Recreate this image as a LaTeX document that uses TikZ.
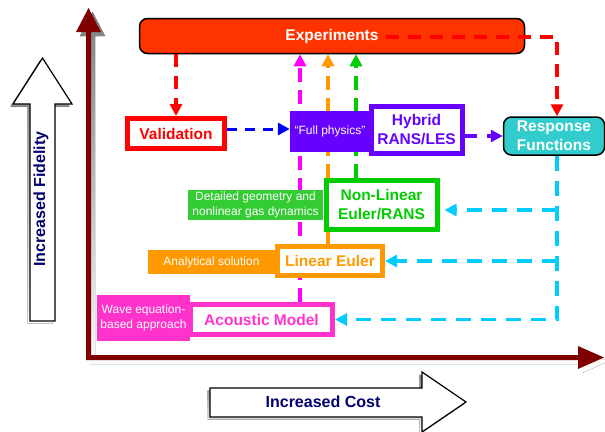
\documentclass[tikz,border=0pt]{standalone}
\usepackage{fontspec}
\setmainfont{Liberation Sans}
\usetikzlibrary{arrows.meta,calc}
\pgfdeclarelayer{paper}
\pgfdeclarelayer{bg}
\pgfsetlayers{paper,bg,main}
\definecolor{expred}{RGB}{255,51,0}
\definecolor{valred}{RGB}{255,0,0}
\definecolor{vblue}{RGB}{0,0,255}
\definecolor{hpurple}{RGB}{102,0,255}
\definecolor{rteal}{RGB}{51,204,204}
\definecolor{nlgreen}{RGB}{0,204,0}
\definecolor{lgreen}{RGB}{51,204,51}
\definecolor{leorange}{RGB}{255,153,0}
\definecolor{ammag}{RGB}{255,51,204}
\definecolor{magline}{RGB}{255,0,255}
\definecolor{rcyan}{RGB}{0,204,255}
\definecolor{axred}{RGB}{128,0,0}
\definecolor{shade}{RGB}{160,160,160}
\definecolor{navy}{RGB}{0,0,110}
\begin{document}
\begin{tikzpicture}[x=1pt,y=-1pt,
  model/.style={draw=#1, text=#1, line width=5pt, fill=white, inner sep=0pt,
    font=\fontsize{15.5}{19}\selectfont\bfseries, align=center},
  tag/.style={fill=#1, inner sep=0pt, text=white,
    font=\fontsize{12}{15}\selectfont, align=center},
  roundbox/.style={draw=black, line width=1.5pt, rounded corners=8pt, fill=#1,
    text=white, inner sep=0pt, font=\fontsize{15.5}{19}\selectfont\bfseries, align=center},
  tip/.style={-{Triangle[length=12pt,width=12pt]}},
  link/.style={tip, draw=#1, line width=3.5pt, dash pattern=on 14pt off 8pt},
  outline/.style={draw=black, line width=1.2pt, fill=white},
  axislabel/.style={text=navy, font=\fontsize{16}{19}\selectfont\bfseries}]
\useasboundingbox (0,0) rectangle (605,431);
\clip (0,0) rectangle (605,431);
\begin{pgfonlayer}{paper}
  \fill[white] (0,0) rectangle (605,431);
\end{pgfonlayer}

% hollow arrows for the two qualitative axes
\fill[shade] ($(30,321)+(-2.5,2.5)$) -- ++(0,-217) -- ++(-17,0) -- ++(29.5,-46) -- ++(29.5,46) -- ++(-17,0) -- ++(0,217) -- cycle;
\draw[outline] (30,321) -- (30,104) -- (13,104) -- (42.5,58) -- (72,104) -- (55,104) -- (55,321) -- cycle;
\node[axislabel, rotate=90] (fid) at (41,199) {Increased Fidelity};

\fill[shade] ($(210,388)+(-2.5,2.5)$) -- ++(212,0) -- ++(0,-16) -- ++(44,30) -- ++(-44,30) -- ++(0,-15) -- ++(-212,0) -- cycle;
\draw[outline] (210,388) -- (422,388) -- (422,372) -- (466,402) -- (422,432) -- (422,417) -- (210,417) -- cycle;
\node[axislabel] (cost) at (323,402) {Increased Cost};

% dark red coordinate axes with their shadow
\fill[shade] ($(86,360)+(4,4)$) -- ++(0,-328) -- ++(-10,0) -- ++(12.5,-24) -- ++(12.5,24) -- ++(-10,0)
  -- ++(0,323) -- ++(487,0) -- ++(0,-9) -- ++(26,11.5) -- ++(-26,11.5) -- ++(0,-9) -- cycle;
\fill[axred] (86,360) -- (86,32) -- (76,32) -- (88.5,8) -- (101,32) -- (91,32)
  -- (91,355) -- (578,355) -- (578,346) -- (604,357.5) -- (578,369) -- (578,360) -- cycle;

% model boxes
\node[roundbox=expred, minimum width=385pt, minimum height=35pt] (exp) at (332,36) {Experiments};
\node[model=valred, minimum width=97pt, minimum height=30pt] (val) at (176,133.5) {Validation};
\node[model=hpurple, minimum width=91pt, minimum height=47pt] (hyb) at (416.5,129.5) {Hybrid\\RANS/LES};
\node[tag=hpurple, minimum width=80pt, minimum height=41pt] (full) at (330,131.5) {“Full physics”};
\node[roundbox=rteal, minimum width=101pt, minimum height=38pt] (resp) at (554,136) {Response\\Functions};
\node[model=nlgreen, minimum width=111pt, minimum height=49pt] (nl) at (381.5,205) {Non-Linear\\Euler/RANS};
\node[tag=lgreen, minimum width=135pt, minimum height=30pt] (nltag) at (255.5,205) {Detailed geometry and\\nonlinear gas dynamics};
\node[model=leorange, minimum width=105pt, minimum height=29pt] (le) at (330,261) {Linear Euler};
\node[tag=leorange, minimum width=127pt, minimum height=24pt] (letag) at (211.5,262) {Analytical solution};
\node[model=ammag, minimum width=142pt, minimum height=30pt] (am) at (261.5,319.5) {Acoustic Model};
\node[tag=ammag, minimum width=93pt, minimum height=46pt] (amtag) at (143.5,318) {Wave equation-\\based approach};

% each model feeds the experiments (drawn behind the boxes)
\coordinate (amUp) at ([xshift=38.5pt]am.north);
\coordinate (leUp) at ([xshift=-2pt]le.north);
\coordinate (nlUp) at ([xshift=-25.5pt]nl.north);
\begin{pgfonlayer}{bg}
  \draw[link=magline] (amUp) -- (amUp |- exp.south);
  \draw[link=leorange] (leUp) -- (leUp |- exp.south);
  \draw[link=nlgreen] (nlUp) -- (nlUp |- exp.south);
\end{pgfonlayer}

% experiments to validation and response functions
\coordinate (expR) at (386,37);
\coordinate (respIn) at ([xshift=3pt]resp.north);
\draw[link=valred, dash pattern=on 13pt off 9pt] (val.north |- exp.south) -- (val.north);
\draw[link=valred, dash pattern=on 13pt off 9pt] (expR) -| (respIn);

% validation to full physics, hybrid to response functions
\coordinate (valOut) at ([yshift=4.5pt]val.east);
\draw[link=vblue, line width=3pt, dash pattern=on 10pt off 8pt] (valOut) -- (valOut -| full.west);
\draw[link=hpurple, dash pattern=on 12pt off 10pt] (hyb.east |- resp.west) -- (resp.west);

% response functions back to the lower-fidelity models
\coordinate (respOut) at ([xshift=3pt]resp.south);
\coordinate (nlIn) at ([yshift=-5pt,xshift=5pt]nl.east);
\draw[link=rcyan, dash pattern=on 15pt off 10pt] (respOut) |- (am.east);
\draw[link=rcyan, dash pattern=on 15pt off 10pt] (respOut |- nlIn) -- (nlIn);
\draw[link=rcyan, dash pattern=on 15pt off 10pt] (respOut |- le.east) -- (le.east);
\end{tikzpicture}
\end{document}
